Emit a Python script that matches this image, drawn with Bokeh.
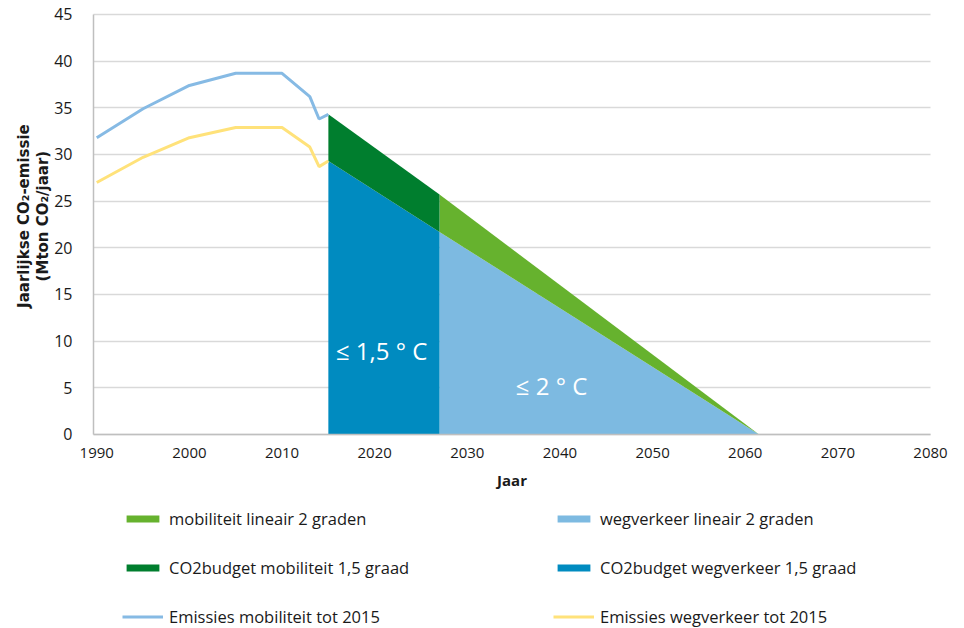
import math

from bokeh.plotting import figure
from bokeh.models import (Legend, LegendItem, Label, FixedTicker,
                          SingleIntervalTicker, Range1d)
from bokeh.embed import file_html
from bokeh.resources import INLINE

# Historical emissions (Mton CO2 per year)
hist_years = [1990, 1995, 2000, 2005, 2010, 2013, 2014, 2015]
mob_hist = [31.8, 34.9, 37.4, 38.7, 38.7, 36.2, 33.8, 34.3]
weg_hist = [27.0, 29.7, 31.8, 32.9, 32.9, 30.8, 28.7, 29.3]

# CO2 budget compatible with 1.5 degrees
budget_years = [2015, 2027]
budget_weg = [29.3, 21.7]
budget_mob = [34.3, 25.7]

# Linear reduction path for 2 degrees
lin_years = [2027, 2061.5]
lin_weg = [21.7, 0.0]
lin_mob = [25.7, 0.0]

y_ticks = [0, 5, 10, 15, 20, 25, 30, 35, 40, 45]

FONT = "Open Sans"
GREEN_LIGHT = "#66b22e"
GREEN_DARK = "#007e2e"
BLUE_LIGHT = "#7dbae1"
BLUE_DARK = "#008bc0"
LINE_BLUE = "#86bae4"
LINE_YELLOW = "#ffe27a"
TEXT = "#1a1a1a"

X0, X1 = 1989.65, 2080   # extent of the drawn axes

# The frame fills the whole page; both axes are pinned inside it so that the
# tick labels, titles and the legend underneath all have room.
p = figure(width=964, height=628, output_backend="svg", toolbar_location=None,
           x_range=Range1d(1979.61, 2083.67), y_range=Range1d(-20.79, 46.5),
           min_border=0, min_border_left=0, min_border_right=0,
           min_border_top=0, min_border_bottom=0)
p.outline_line_color = None

# stacked areas: road traffic at the bottom, rest of mobility on top
r_weg_lin = p.varea(x=lin_years, y1=0, y2=lin_weg, fill_color=BLUE_LIGHT)
r_mob_lin = p.varea(x=lin_years, y1=lin_weg, y2=lin_mob, fill_color=GREEN_LIGHT)
r_weg_bud = p.varea(x=budget_years, y1=0, y2=budget_weg, fill_color=BLUE_DARK)
r_mob_bud = p.varea(x=budget_years, y1=budget_weg, y2=budget_mob, fill_color=GREEN_DARK)

r_mob_hist = p.line(hist_years, mob_hist, line_color=LINE_BLUE, line_width=3)
r_weg_hist = p.line(hist_years, weg_hist, line_color=LINE_YELLOW, line_width=3)

p.add_layout(Label(x=2020.75, y=8.96, text="≤ 1,5 ° C", text_color="white",
                   text_font=FONT, text_font_size="24px", text_align="center",
                   text_baseline="middle"))
p.add_layout(Label(x=2039.1, y=5.2, text="≤ 2 ° C", text_color="white",
                   text_font=FONT, text_font_size="24px", text_align="center",
                   text_baseline="middle"))

# axes
p.xaxis.ticker = SingleIntervalTicker(interval=10)
p.xaxis.fixed_location = 0
p.xaxis.bounds = (X0, X1)
p.yaxis.ticker = FixedTicker(ticks=y_ticks)
p.yaxis.fixed_location = X0
p.yaxis.bounds = (0, 45)
for ax in (p.xaxis[0], p.yaxis[0]):
    ax.axis_line_color = "#bfbfbf"
    ax.axis_line_width = 1.5
    ax.major_tick_line_color = None
    ax.minor_tick_line_color = None
    ax.major_label_text_font = FONT
    ax.major_label_text_color = TEXT
p.xaxis.major_label_text_font_size = "15px"
p.yaxis.major_label_text_font_size = "16px"
p.xaxis.major_label_standoff = 8
p.yaxis.major_label_standoff = 15

# axis titles
p.add_layout(Label(x=(X0 + X1) / 2, y=-4.93, text="Jaar", text_color=TEXT,
                   text_font=FONT, text_font_style="bold",
                   text_font_size="15px", text_align="center",
                   text_baseline="middle"))
p.add_layout(Label(x=1982.1, y=23.4, text="Jaarlijkse CO₂-emissie",
                   angle=math.pi / 2, text_color=TEXT,
                   text_font="DejaVu Sans", text_font_style="bold",
                   text_font_size="15px", text_align="center",
                   text_baseline="middle"))
p.add_layout(Label(x=1984.15, y=23.4, text="(Mton CO₂/jaar)",
                   angle=math.pi / 2, text_color=TEXT,
                   text_font="DejaVu Sans", text_font_style="bold",
                   text_font_size="15px", text_align="center",
                   text_baseline="middle"))

p.xgrid.grid_line_color = None
p.ygrid.grid_line_color = "#d9d9d9"
p.ygrid.grid_line_width = 1.5
p.ygrid.cross_bounds = (X0, X1)

legend = Legend(items=[
    LegendItem(label="mobiliteit lineair 2 graden", renderers=[r_mob_lin]),
    LegendItem(label="CO2budget mobiliteit 1,5 graad", renderers=[r_mob_bud]),
    LegendItem(label="Emissies mobiliteit tot 2015", renderers=[r_mob_hist]),
    LegendItem(label="wegverkeer lineair 2 graden", renderers=[r_weg_lin]),
    LegendItem(label="CO2budget wegverkeer 1,5 graad", renderers=[r_weg_bud]),
    LegendItem(label="Emissies wegverkeer tot 2015", renderers=[r_weg_hist]),
], location=(122, 0), orientation="vertical", nrows=3,
    glyph_width=41, glyph_height=9, label_standoff=6, label_width=358,
    label_height=18, spacing=26, padding=0, margin=0,
    border_line_color=None, background_fill_alpha=0,
    label_text_font=FONT, label_text_font_size="16.5px",
    label_text_color=TEXT)
p.add_layout(legend)

open("out.html", "w").write(file_html(p, INLINE))
